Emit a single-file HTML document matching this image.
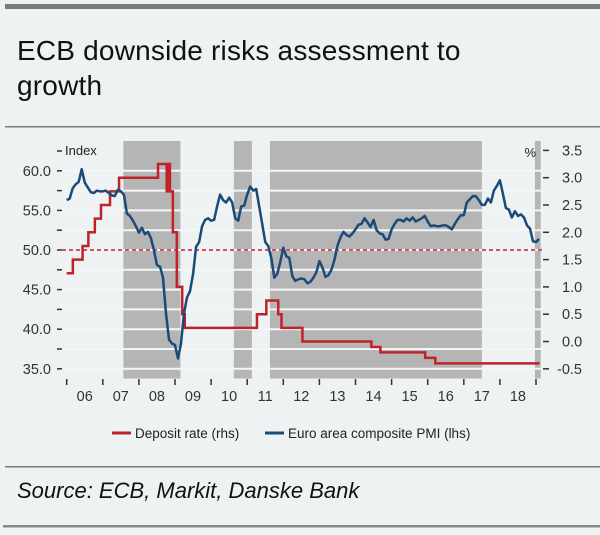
<!DOCTYPE html>
<html><head><meta charset="utf-8"><style>
html,body{margin:0;padding:0;background:#eef2f2;}
body{width:600px;height:535px;position:relative;overflow:hidden;font-family:"Liberation Sans",sans-serif;}
#title{position:absolute;left:17px;top:33px;font-size:28px;line-height:35px;color:#111;letter-spacing:0.2px;}
#src{position:absolute;left:17px;top:478px;font-size:22px;font-style:italic;color:#111;}
svg{position:absolute;left:0;top:0;}
</style></head><body>
<svg id="chart" width="600" height="535">
<rect x="5" y="4" width="595" height="5" fill="#7a7a7a"/>
<rect x="5" y="126" width="595" height="1.5" fill="#7a7a7a"/>
<rect x="5" y="466" width="595" height="1.5" fill="#7a7a7a"/>
<rect x="3" y="525" width="597" height="2.5" fill="#8a8a8a"/>
<g id="bands"></g><g id="axes"></g><g id="series"></g>
<g>
<line x1="112" y1="433" x2="131" y2="433" stroke="#c0222a" stroke-width="3"/>
<text x="135" y="438" font-size="13.5" fill="#222">Deposit rate (rhs)</text>
<line x1="265" y1="433" x2="284" y2="433" stroke="#1a4a78" stroke-width="3"/>
<text x="288" y="438" font-size="13.5" fill="#222">Euro area composite PMI (lhs)</text>
</g>
</svg>
<div id="title">ECB downside risks assessment to<br>growth</div>
<div id="src">Source: ECB, Markit, Danske Bank</div>
<script>
const years = ["06","07","08","09","10","11","12","13","14","15","16","17","18"];
const leftTicks = [35,37.5,40,42.5,45,47.5,50,52.5,55,57.5,60,62.5];
const rightTicks = [-0.5,0,0.5,1,1.5,2,2.5,3,3.5];
const bandStarts = [2007.57,2010.63,2011.63,2018.97];
const bandEnds = [2009.15,2011.13,2017.5,2019.13];
const pmi = [
56.3,56.5,57.8,58.3,58.6,60.2,58.5,57.9,57.3,57.2,57.5,57.4,
57.4,57.5,57.2,56.9,56.8,57.6,57.4,57.0,54.6,54.3,53.7,53.0,
52.2,52.8,52.0,52.3,51.5,50.0,48.1,47.9,46.5,42.0,38.7,38.2,
38.0,36.3,38.2,42.0,44.0,44.8,47.0,50.4,51.0,53.0,53.8,54.0,
53.7,53.8,55.5,57.0,56.3,56.0,56.6,56.0,54.0,53.7,55.5,55.6,
57.0,58.0,57.5,57.7,55.5,53.3,51.0,50.5,49.0,46.5,47.0,48.5,
50.3,49.2,49.0,46.7,46.1,46.3,46.4,46.3,45.8,46.0,46.5,47.2,
48.6,47.8,46.6,46.8,47.5,48.7,50.5,51.6,52.3,51.9,51.7,52.1,
52.6,53.2,53.3,54.0,53.5,52.9,53.8,52.5,52.1,52.0,51.3,51.4,
52.6,53.3,53.8,53.8,53.6,54.0,53.7,54.1,53.6,53.8,54.0,54.3,
53.6,53.0,53.1,53.0,53.0,53.1,53.1,52.9,52.6,53.3,53.9,54.4,
54.4,56.0,56.4,56.8,56.8,56.3,55.7,55.7,56.5,56.0,57.5,58.1,
58.8,57.1,55.3,55.1,54.1,54.9,54.3,54.5,54.1,53.1,52.7,51.1,
51.0,51.4];
const rateDates = [2006.0,2006.17,2006.44,2006.6,2006.78,2006.95,2007.2,2007.45,2008.53,2008.77,2008.79,2008.86,2008.94,2009.05,2009.2,2009.27,2011.27,2011.53,2011.86,2011.95,2012.53,2014.44,2014.69,2015.93,2016.21,2019.1];
const rateVals = [1.25,1.5,1.75,2.0,2.25,2.5,2.75,3.0,3.25,2.75,3.25,2.75,2.0,1.0,0.5,0.25,0.5,0.75,0.5,0.25,0.0,-0.1,-0.2,-0.3,-0.4,-0.4];

const NS="http://www.w3.org/2000/svg";
const X0=62, X1=545, Y0=141, Y1=378.5;
const xS = t => 66.7 + (t-2006)*36.1;
const yL = v => 250 - (v-50)*7.92;
const yR = v => 177.7 - (v-3)*54.6;
function mk(tag, attrs, parent){const e=document.createElementNS(NS,tag);for(const k in attrs)e.setAttribute(k,attrs[k]);parent.appendChild(e);return e;}
const bands=document.getElementById('bands'), axes=document.getElementById('axes'), series=document.getElementById('series');
for(let i=0;i<bandStarts.length;i++){
  const r=mk('rect',{x:xS(bandStarts[i]),y:Y0,width:xS(bandEnds[i])-xS(bandStarts[i]),height:Y1-Y0,fill:'#b5b5b5'},bands);
  
  
}
leftTicks.forEach(v=>{
  const y=yL(v);
  if(v<62.5){const g=mk('line',{x1:X0,x2:X1,y1:y,y2:y,stroke:'#f4f6f6','stroke-width':2},bands);
  
  }
  const t=mk('line',{x1:57,x2:62,y1:y,y2:y,stroke:'#333','stroke-width':1.5},axes);
  
  
  if(v%5===0){const l=mk('text',{x:51,y:y+5,'text-anchor':'end','font-size':14.5,fill:'#333'},axes);l.textContent=v.toFixed(1);
  
  }
});
const il=mk('text',{x:65,y:155,'font-size':13,fill:'#222'},axes);il.textContent='Index';


const pl=mk('text',{x:536,y:157,'text-anchor':'end','font-size':13,fill:'#222'},axes);pl.textContent='%';


rightTicks.forEach(v=>{
  const y=yR(v);
  const t=mk('line',{x1:543,x2:549,y1:y,y2:y,stroke:'#333','stroke-width':1.5},axes);
  
  
  const l=mk('text',{x:v<0?557:562,y:y+5,'font-size':14.5,fill:'#333'},axes);l.textContent=v===0?'0.0':(v<0?'-'+Math.abs(v).toFixed(1):v.toFixed(1));
  
  
});
for(let i=0;i<=years.length;i++){
  const x=xS(2006+i);
  const t=mk('line',{x1:x,x2:x,y1:379,y2:385,stroke:'#333','stroke-width':1.5},axes);
  
  
  if(i<years.length){const l=mk('text',{x:x+18,y:401,'text-anchor':'middle','font-size':14.5,fill:'#333'},axes);l.textContent=years[i];
  
  }
}
const ref=mk('line',{x1:X0,x2:X1,y1:yL(50),y2:yL(50),stroke:'#c0222a','stroke-width':1.5,'stroke-dasharray':'4,3'},series);


let d='';
for(let i=0;i<rateDates.length;i++){
  const x=xS(rateDates[i]), y=yR(rateVals[i]);
  if(i===0) d+='M'+x+','+y; else d+='H'+x+'V'+y;
}
const rp=mk('path',{d:d,fill:'none',stroke:'#c0222a','stroke-width':2.5},series);


const pts=pmi.map((v,i)=>xS(2006+i/12).toFixed(1)+','+yL(v).toFixed(1)).join(' ');
const bp=mk('polyline',{points:pts,fill:'none',stroke:'#1a4a78','stroke-width':2.5,'stroke-linejoin':'round'},series);


</script>
</body></html>
